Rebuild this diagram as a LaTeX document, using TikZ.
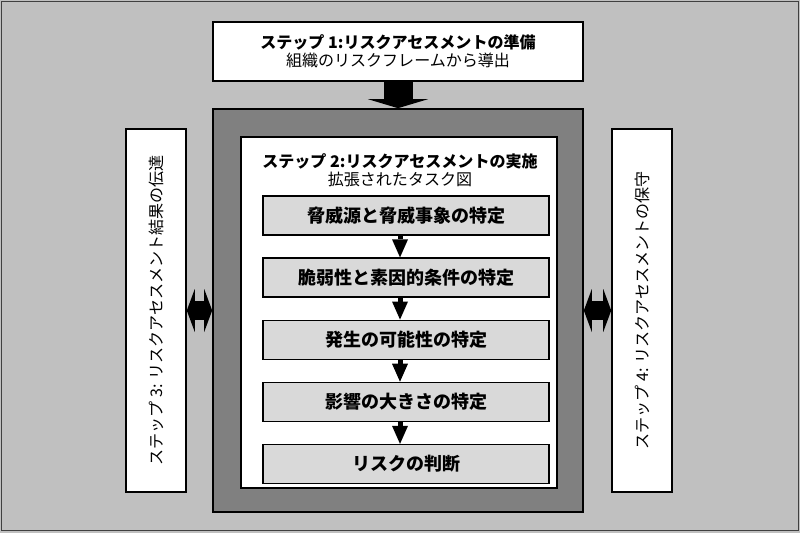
\documentclass[tikz,border=0pt]{standalone}
\usepackage{fontspec}
\usepackage{graphicx}
\setmainfont{Noto Sans CJK JP}
\usetikzlibrary{arrows.meta, positioning}

\definecolor{bggray}{RGB}{192,192,192}
\definecolor{outergray}{RGB}{128,128,128}
\definecolor{taskgray}{RGB}{217,217,217}
\newcommand{\pxu}{0.025cm}

\begin{document}
\begin{tikzpicture}[
    x=\pxu, y=-\pxu,
    node distance=0.54cm,
    frame/.style={
        draw,
        line width=1.1pt,
        inner sep=0pt,
        align=center
    },
    stepbox/.style={
        frame,
        fill=white,
        minimum width=9.25cm,
        minimum height=1.475cm,
        font=\fontsize{11.4}{13}\selectfont
    },
    sidebox/.style={
        frame,
        fill=white,
        minimum width=1.5cm,
        minimum height=9.075cm,
        font=\fontsize{11.4}{13}\selectfont
    },
    task/.style={
        frame,
        fill=taskgray,
        minimum width=7.15cm,
        minimum height=0.975cm,
        font=\fontsize{12.8}{15}\selectfont\bfseries
    },
    bigarrow/.style={
        line width=0.725cm,
        -{Triangle[width=1.5cm, length=0.225cm, line width=0pt]}
    },
    dblarrow/.style={
        line width=0.475cm,
        {Triangle[width=1.075cm, length=0.2cm, line width=0pt]}-{Triangle[width=1.075cm, length=0.2cm, line width=0pt]}
    },
    arrow/.style={
        line width=0.125cm,
        -{Triangle[width=0.4cm, length=0.45cm, line width=0pt]}
    }
]

% Fond
\useasboundingbox (0,0) rectangle (800,533);
\fill[bggray] (0,0) rectangle (800,533);
\draw[black!75, line width=0.9pt] (1.5,1.5) rectangle (798.5,530.5);

% Nœuds
\node[stepbox] (s1) at (398,51.5) {\textbf{ステップ 1:リスクアセスメントの準備}\\組織のリスクフレームから導出};
\node[frame, fill=outergray, minimum width=9.25cm, minimum height=10.075cm] (s2outer) at (398,310.5) {};
\node[frame, fill=white, minimum width=7.9cm, minimum height=8.775cm] (s2inner) at (399,312.5) {};
\node[font=\fontsize{11.4}{13}\selectfont, align=center] (s2title) at (400,170.5) {\textbf{ステップ 2:リスクアセスメントの実施}\\拡張されたタスク図};

\node[task] (t1) at (406,215.5) {脅威源と脅威事象の特定};
\node[task, below=of t1] (t2) {脆弱性と素因的条件の特定};
\node[task, below=of t2] (t3) {発生の可能性の特定};
\node[task, below=of t3] (t4) {影響の大きさの特定};
\node[task, below=of t4] (t5) {リスクの判断};

\node[sidebox] (s3) at (156,310.5) {\rotatebox{90}{ステップ 3: リスクアセスメント結果の伝達}};
\node[sidebox] (s4) at (642,310.5) {\rotatebox{90}{ステップ 4: リスクアセスメントの保守}};

% Flèches
\draw[bigarrow] (s1.south) -- (s2outer.north -| s1.south);
\draw[arrow] (t1.south -| s2title) -- (t2.north -| s2title);
\draw[arrow] (t2.south -| s2title) -- (t3.north -| s2title);
\draw[arrow] (t3.south -| s2title) -- (t4.north -| s2title);
\draw[arrow] (t4.south -| s2title) -- (t5.north -| s2title);
\draw[dblarrow] (s3.east) -- (s2outer.west |- s3.east);
\draw[dblarrow] (s2outer.east |- s4.west) -- (s4.west);

\end{tikzpicture}
\end{document}
